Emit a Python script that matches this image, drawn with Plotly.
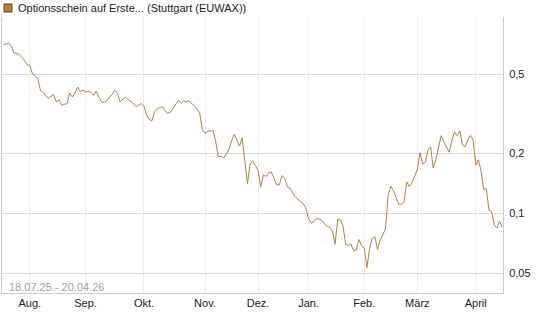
import pandas as pd
import plotly.graph_objects as go

# ---- data ----
start_date = "2025-07-18"
end_date = "2026-04-17"
holidays = ["2025-12-24", "2025-12-25", "2025-12-26", "2025-12-31",
            "2026-01-01", "2026-04-03", "2026-04-06"]

prices = [
    0.709, 0.709, 0.722, 0.695, 0.641, 0.634, 0.631, 0.608, 0.589, 0.558,
    0.556, 0.503, 0.493, 0.475, 0.415, 0.406, 0.390, 0.380, 0.390, 0.396,
    0.363, 0.373, 0.349, 0.354, 0.355, 0.403, 0.385, 0.403, 0.432, 0.410,
    0.416, 0.409, 0.410, 0.407, 0.392, 0.412, 0.385, 0.364, 0.361, 0.368,
    0.385, 0.395, 0.417, 0.402, 0.364, 0.374, 0.385, 0.373, 0.365, 0.357,
    0.344, 0.352, 0.357, 0.345, 0.313, 0.297, 0.292, 0.323, 0.335, 0.342,
    0.343, 0.327, 0.319, 0.323, 0.337, 0.355, 0.371, 0.358, 0.369, 0.363,
    0.369, 0.356, 0.349, 0.335, 0.319, 0.263, 0.253, 0.258, 0.260, 0.261,
    0.231, 0.193, 0.194, 0.190, 0.199, 0.209, 0.231, 0.250, 0.234, 0.218,
    0.240, 0.183, 0.141, 0.178, 0.183, 0.174, 0.164, 0.136, 0.156, 0.153,
    0.160, 0.161, 0.148, 0.139, 0.139, 0.155, 0.150, 0.136, 0.134, 0.127,
    0.121, 0.118, 0.114, 0.112, 0.106, 0.0939, 0.0893, 0.0908, 0.0939, 0.0936,
    0.0923, 0.0889, 0.0859, 0.0851, 0.0815, 0.0699, 0.0933, 0.0927, 0.0866, 0.0697,
    0.0690, 0.0699, 0.0649, 0.0653, 0.0738, 0.0685, 0.0670, 0.0533, 0.0662, 0.0749,
    0.0764, 0.0658, 0.0734, 0.0779, 0.0834, 0.123, 0.137, 0.130, 0.121, 0.111,
    0.111, 0.114, 0.144, 0.136, 0.143, 0.155, 0.166, 0.202, 0.177, 0.181,
    0.208, 0.216, 0.169, 0.187, 0.211, 0.246, 0.229, 0.217, 0.203, 0.232,
    0.256, 0.246, 0.260, 0.221, 0.217, 0.234, 0.247, 0.234, 0.175, 0.186,
    0.164, 0.132, 0.133, 0.1035, 0.102, 0.0873, 0.0844, 0.0915, 0.0848,
]

month_ticks = ["2025-08-01", "2025-09-01", "2025-10-01", "2025-11-03", "2025-12-01",
               "2026-01-02", "2026-02-02", "2026-03-02", "2026-04-01"]
month_labels = ["Aug.", "Sep.", "Okt.", "Nov.", "Dez.", "Jan.", "Feb.", "März", "April"]

y_ticks = [0.05, 0.1, 0.2, 0.5]
y_labels = ["0,05", "0,1", "0,2", "0,5"]

series_name = "Optionsschein auf Erste... (Stuttgart (EUWAX))"
period_text = "18.07.25 - 20.04.26"

dates = [d for d in pd.bdate_range(start_date, end_date)
         if d.strftime("%Y-%m-%d") not in holidays]
dates = dates[:len(prices)]

LINE = "#b5833c"
FONT = "Liberation Sans, Arial, sans-serif"

fig = go.Figure()
fig.add_trace(go.Scatter(x=dates, y=prices, mode="lines",
                         line=dict(color=LINE, width=1), name=series_name,
                         hoverinfo="x+y"))

fig.update_layout(
    width=545, height=327,
    margin=dict(l=2, r=42, t=17, b=34, pad=0),
    paper_bgcolor="white", plot_bgcolor="white",
    showlegend=False,
    font=dict(family=FONT, size=11, color="#222222"),
    separators=",.",
    xaxis=dict(
        type="date",
        rangebreaks=[dict(bounds=["sat", "mon"]), dict(values=holidays)],
        range=["2025-07-17 12:15", "2026-04-17 06:40"],
        tickmode="array", tickvals=month_ticks, ticktext=month_labels,
        showgrid=True, gridcolor="#ececec", gridwidth=1,
        showline=True, linecolor="#cccccc", linewidth=1,
        ticks="", zeroline=False,
        tickfont=dict(family=FONT, size=11, color="#222222"),
    ),
    yaxis=dict(
        type="log", side="right",
        range=[-1.4011, -0.0121],
        tickmode="array", tickvals=y_ticks, ticktext=y_labels,
        showgrid=True, gridcolor="#dadada", gridwidth=1,
        showline=True, mirror=True, linecolor="#cccccc", linewidth=1,
        ticks="", zeroline=False, ticklabelstandoff=3,
        tickfont=dict(family=FONT, size=11, color="#222222"),
    ),
)

# legend-like header: colour square + name
fig.add_shape(type="rect", xref="paper", yref="paper",
              x0=2 / 501, x1=10 / 501, y0=1 + 5 / 276, y1=1 + 13 / 276,
              fillcolor=LINE, line=dict(color="#6b4a1f", width=1))
fig.add_annotation(xref="paper", yref="paper", x=14 / 501, y=1, yshift=9,
                   xanchor="left", yanchor="middle", showarrow=False,
                   text=series_name,
                   font=dict(family=FONT, size=11, color="#222222"))
# period text bottom-left
fig.add_annotation(xref="paper", yref="paper", x=5 / 501, y=0, yshift=6,
                   xanchor="left", yanchor="middle", showarrow=False,
                   text=period_text,
                   font=dict(family=FONT, size=11, color="#a0a0a0"))

fig.write_html("out.html")
